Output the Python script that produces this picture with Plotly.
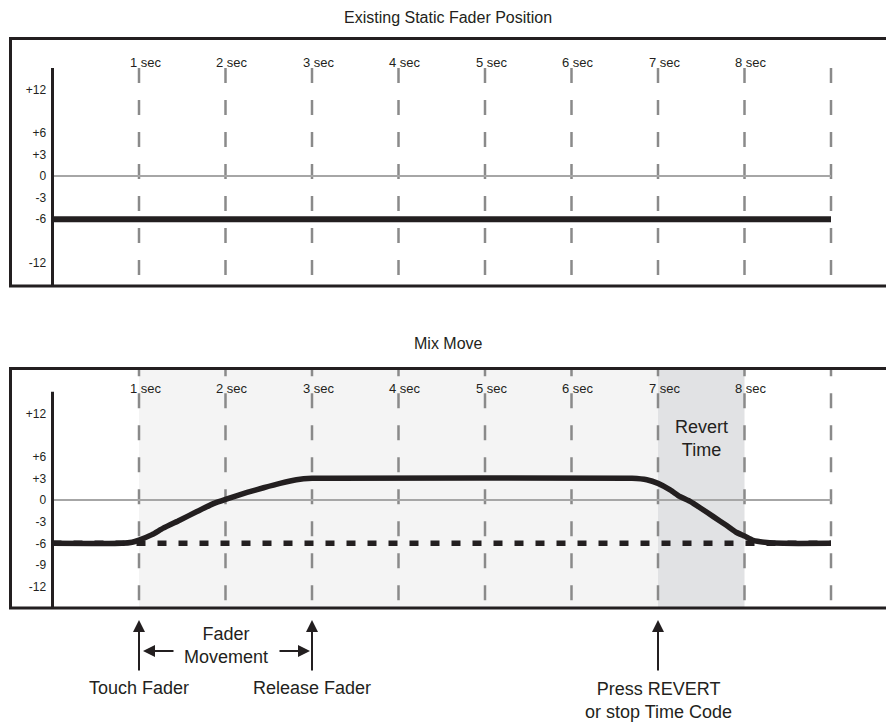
import plotly.graph_objects as go

# ---------------- data ----------------
seconds = [1, 2, 3, 4, 5, 6, 7, 8, 9]
sec_labels = ["1 sec", "2 sec", "3 sec", "4 sec", "5 sec", "6 sec", "7 sec", "8 sec", ""]
top_ticks = [12, 6, 3, 0, -3, -6, -12]
top_tick_text = ["+12", "+6", "+3", "0", "-3", "-6", "-12"]
mix_ticks = [12, 6, 3, 0, -3, -6, -9, -12]
mix_tick_text = ["+12", "+6", "+3", "0", "-3", "-6", "-9", "-12"]
time_span = [0, 9]
static_level = [-6, -6]
zero_level = [0, 0]
axis_top_db = 15
mix_time = [0, 0.8, 0.92, 1.0, 1.15, 1.28, 1.47, 1.67, 1.86, 2.0, 2.25, 2.44, 2.63, 2.82,
            3.0, 3.2, 6.7, 6.87, 7.0, 7.14, 7.25, 7.37, 7.49, 7.64, 7.79, 7.91, 8.0,
            8.1, 8.26, 8.45, 9.0]
mix_db = [-6, -6, -5.85, -5.55, -4.8, -3.9, -2.8, -1.6, -0.5, 0.1, 1.05, 1.7, 2.3, 2.8,
          3.0, 3.0, 3.0, 2.8, 2.3, 1.4, 0.5, -0.2, -1.1, -2.3, -3.5, -4.5, -5.0,
          -5.6, -5.9, -6.0, -6.0]
touch_time = 1
release_time = 3
revert_time = 7
revert_end = 8

# ---------------- layout helpers ----------------
W, H = 886, 725
INK = "#231f20"
GRAY_DASH = "#8a8a8a"
FONT = "Liberation Sans, Arial, Helvetica, sans-serif"
px_per_sec = 86.5
x0_px = 52.5
x_range = [-x0_px / px_per_sec, (W - x0_px) / px_per_sec]


def py(p):
    return 1 - p / H


top_dom = [py(286), py(38.5)]
top_range = [-(286 - 176) / 7.2, (176 - 38.5) / 7.2]
mix_dom = [py(608), py(368.5)]
mix_range = [-(608 - 500) / 7.22, (500 - 368.5) / 7.22]

fig = go.Figure()


def add_panel(xa, ya, yrange, dash_top):
    # vertical dashed second markers
    for s in seconds:
        fig.add_trace(go.Scatter(x=[s, s], y=[dash_top, yrange[0] + 0.05], mode="lines",
                                 line=dict(color=GRAY_DASH, width=2.5, dash="15px,17px"),
                                 xaxis=xa, yaxis=ya, hoverinfo="skip", showlegend=False))
    # zero reference line
    fig.add_trace(go.Scatter(x=time_span, y=zero_level, mode="lines",
                             line=dict(color="#a6a6a6", width=2),
                             xaxis=xa, yaxis=ya, hoverinfo="skip", showlegend=False))
    # vertical axis line
    fig.add_trace(go.Scatter(x=[0, 0], y=[axis_top_db, yrange[0] - 2], mode="lines",
                             line=dict(color=INK, width=3),
                             xaxis=xa, yaxis=ya, hoverinfo="skip", showlegend=False))


# ---- top panel ----
add_panel("x", "y", top_range, axis_top_db)
fig.add_trace(go.Scatter(x=time_span, y=static_level, mode="lines",
                         line=dict(color=INK, width=6),
                         xaxis="x", yaxis="y", hoverinfo="skip", showlegend=False))

# ---- mix panel ----
add_panel("x2", "y2", mix_range, mix_range[1] + 1)
fig.add_trace(go.Scatter(x=time_span, y=static_level, mode="lines",
                         line=dict(color=INK, width=5.5, dash="9px,12px"),
                         xaxis="x2", yaxis="y2", hoverinfo="skip", showlegend=False))
fig.add_trace(go.Scatter(x=mix_time, y=mix_db, mode="lines",
                         line=dict(color=INK, width=5.5, shape="spline", smoothing=0.5),
                         xaxis="x2", yaxis="y2", hoverinfo="skip", showlegend=False))

shapes = [
    dict(type="rect", xref="x2", yref="y2 domain", x0=touch_time, x1=revert_time, y0=0, y1=1,
         fillcolor="#f4f4f4", line=dict(width=0), layer="below"),
    dict(type="rect", xref="x2", yref="y2 domain", x0=revert_time, x1=revert_end, y0=0, y1=1,
         fillcolor="#e1e2e4", line=dict(width=0), layer="below"),
    dict(type="rect", xref="paper", yref="paper", x0=10.5 / W, x1=1.05, y0=top_dom[0], y1=top_dom[1],
         line=dict(color=INK, width=3), fillcolor="rgba(0,0,0,0)", layer="above"),
    dict(type="rect", xref="paper", yref="paper", x0=10.5 / W, x1=1.05, y0=mix_dom[0], y1=mix_dom[1],
         line=dict(color=INK, width=3), fillcolor="rgba(0,0,0,0)", layer="above"),
]

annotations = []
txt = dict(family=FONT, color=INK)
mid = dict(xanchor="center", yanchor="middle", showarrow=False)
# titles
annotations.append(dict(text="Existing Static Fader Position", xref="paper", yref="paper",
                        x=448 / W, y=py(18), font=dict(size=16, **txt), **mid))
annotations.append(dict(text="Mix Move", xref="paper", yref="paper",
                        x=448 / W, y=py(343), font=dict(size=16, **txt), **mid))
# second labels
for s, lab in zip(seconds, sec_labels):
    if not lab:
        continue
    for xr, ypix in (("x", 63), ("x2", 388)):
        annotations.append(dict(text=lab, xref=xr, yref="paper", x=s, y=py(ypix),
                                xshift=6.5, font=dict(size=13, **txt), **mid))
# revert label
annotations.append(dict(text="Revert<br>Time", xref="x2", yref="paper",
                        x=(revert_time + revert_end) / 2, y=py(438),
                        font=dict(size=18, **txt), **mid))
# arrows and bottom labels
arrow = dict(showarrow=True, arrowhead=2, arrowsize=1.2, arrowwidth=2, arrowcolor=INK,
             text="", standoff=0)
for t in (touch_time, release_time, revert_time):
    annotations.append(dict(xref="x2", yref="paper", x=t, y=py(620), ax=0, ay=52, **arrow))
annotations.append(dict(xref="x2", yref="paper", x=touch_time, y=py(651), xshift=4,
                        ax=32, ay=0, **arrow))
annotations.append(dict(xref="x2", yref="paper", x=release_time, y=py(651), xshift=-2,
                        ax=-32, ay=0, **arrow))
annotations.append(dict(text="Fader<br>Movement", xref="x2", yref="paper",
                        x=(touch_time + release_time) / 2, y=py(645),
                        font=dict(size=18, **txt), **mid))
annotations.append(dict(text="Touch Fader", xref="x2", yref="paper", x=touch_time, y=py(688),
                        font=dict(size=18, **txt), **mid))
annotations.append(dict(text="Release Fader", xref="x2", yref="paper", x=release_time, y=py(688),
                        font=dict(size=18, **txt), **mid))
annotations.append(dict(text="Press REVERT<br>or stop Time Code", xref="x2", yref="paper",
                        x=revert_time, y=py(700), font=dict(size=18, **txt), **mid))

xax = dict(range=x_range, domain=[0, 1], showgrid=False, zeroline=False, showline=False,
           showticklabels=False, ticks="", fixedrange=True)
yax_common = dict(showgrid=False, zeroline=False, showline=False, ticks="outside",
                  ticklen=4, tickcolor="rgba(0,0,0,0)", anchor="free", position=52.5 / W,
                  tickfont=dict(family=FONT, size=12, color=INK), fixedrange=True)

fig.update_layout(
    width=W, height=H, margin=dict(l=0, r=0, t=0, b=0),
    paper_bgcolor="white", plot_bgcolor="white",
    xaxis=dict(anchor="y", **xax),
    xaxis2=dict(anchor="y2", **xax),
    yaxis=dict(domain=top_dom, range=top_range, tickvals=top_ticks, ticktext=top_tick_text,
               **yax_common),
    yaxis2=dict(domain=mix_dom, range=mix_range, tickvals=mix_ticks, ticktext=mix_tick_text,
                **yax_common),
    shapes=shapes, annotations=annotations, showlegend=False,
)

fig.write_html("out.html", config={"displayModeBar": False},
               post_script="document.body.style.margin='0';")
